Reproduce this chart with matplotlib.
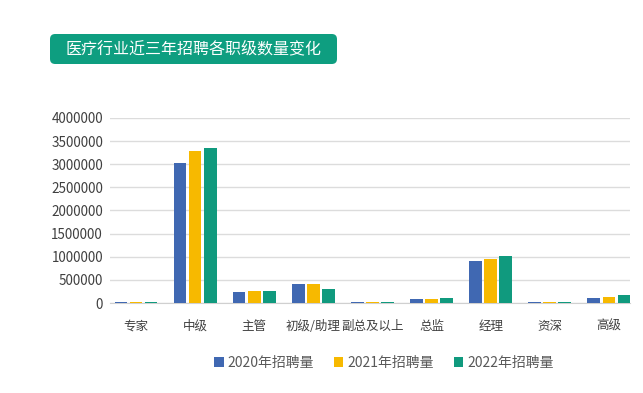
import numpy as np
import matplotlib.pyplot as plt
from matplotlib.patches import FancyBboxPatch

plt.rcParams['font.family'] = ['Noto Sans CJK SC', 'DejaVu Sans']

categories = ['专家', '中级', '主管', '初级/助理', '副总及以上', '总监', '经理', '资深', '高级']
y2020 = [15000, 3030000, 245000, 400000, 12000, 95000, 910000, 14000, 115000]
y2021 = [14000, 3290000, 270000, 420000, 11000, 90000, 960000, 13000, 130000]
y2022 = [16000, 3345000, 250000, 310000, 13000, 115000, 1010000, 15000, 165000]
series_names = ['2020年招聘量', '2021年招聘量', '2022年招聘量']
colors = ['#4068B2', '#F7B900', '#109A7E']
yticks = np.arange(0, 4000001, 500000)

fig = plt.figure(figsize=(6.43, 3.93), dpi=100)
ax = fig.add_axes([0.171, 0.229, 0.809, 0.471])

x = np.arange(len(categories))
w = 0.215
step = 0.255
for i, (vals, name) in enumerate(zip([y2020, y2021, y2022], series_names)):
    ax.bar(x + (i - 1) * step, vals, w, color=colors[i], label=name, zorder=3)

ax.set_ylim(0, 4000000)
ax.set_xlim(-0.44, len(categories) - 0.64)
ax.set_yticks(yticks)
ax.set_yticklabels([str(v) for v in yticks])
ax.set_xticks(x)
ax.set_xticklabels(categories)
ax.tick_params(axis='y', length=0, pad=5, labelsize=9.7, labelcolor='#404040')
ax.tick_params(axis='x', length=0, pad=12, labelsize=9, labelcolor='#404040')
ax.grid(axis='y', color='#dcdcdc', linewidth=1, zorder=0)
for s in ['top', 'right', 'left']:
    ax.spines[s].set_visible(False)
ax.spines['bottom'].set_color('#d0d0d0')

fig.legend(loc='center', bbox_to_anchor=(0.597, 0.076), ncol=3, frameon=False,
           fontsize=10, handlelength=0.7, handleheight=0.7, handletextpad=0.3,
           columnspacing=1.4, labelcolor='#595959')

# title box
box = FancyBboxPatch((50 / 643, 1 - 64 / 393), 287 / 643, 30 / 393,
                     boxstyle='round,pad=0,rounding_size=0.008', mutation_aspect=643 / 393,
                     transform=fig.transFigure, facecolor='#0E9E80', edgecolor='none')
fig.patches.append(box)
fig.text((50 + 337) / 2 / 643, 1 - 49 / 393, '医疗行业近三年招聘各职级数量变化',
         ha='center', va='center', color='white', fontsize=11.5)

fig.savefig('out.png', dpi=100)
